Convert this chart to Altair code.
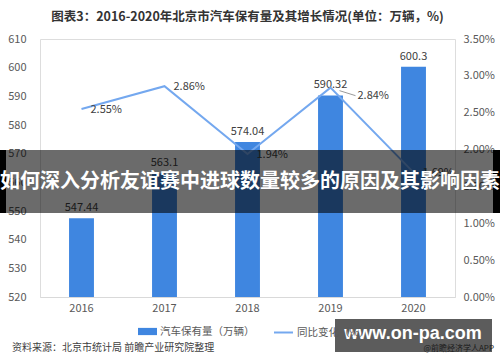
import altair as alt
import pandas as pd

years = ["2016", "2017", "2018", "2019", "2020"]
cars = [547.44, 563.1, 574.04, 590.32, 600.3]
car_labels = ["547.44", "563.1", "574.04", "590.32", "600.3"]
growth = [2.55, 2.86, 1.94, 2.84, 1.69]
growth_labels = ["2.55%", "2.86%", "1.94%", "2.84%", "1.69%"]
bar_name = "汽车保有量（万辆）"
line_name = "同比变化（%）"
title_text = "图表3：2016-2020年北京市汽车保有量及其增长情况(单位：万辆，%)"
source_text = "资料来源：北京市统计局 前瞻产业研究院整理"
banner_text = "如何深入分析友谊赛中进球数量较多的原因及其影响因素"
wm_text = "www.on-pa.com"
wm_sub = "@前瞻经济学人APP"

BAR = "#3f86e0"
LINE = "#74a8ef"
FONT = "Noto Sans CJK SC"

df = pd.DataFrame({"year": years, "cars": cars, "car_label": car_labels,
                   "growth": growth, "growth_label": growth_labels})
df["special"] = [y == "2019" for y in years]

x = alt.X("year:N", title=None,
          scale=alt.Scale(paddingInner=0.7, paddingOuter=0.35),
          axis=alt.Axis(labelAngle=0, domainColor="#d9d9d9", ticks=False,
                        labelColor="#595959", labelFontSize=11, labelPadding=5,
                        labelFont=FONT))
yl_scale = alt.Scale(domain=[520, 610], zero=False, nice=False)
yr_scale = alt.Scale(domain=[0, 3.5], nice=False)
yl_axis = alt.Axis(values=[520, 530, 540, 550, 560, 570, 580, 590, 600, 610],
                   grid=False, domain=False, ticks=False, labelColor="#595959",
                   labelFontSize=11, labelPadding=14, labelFont=FONT)
yr_axis = alt.Axis(orient="right", values=[0, 0.5, 1, 1.5, 2, 2.5, 3, 3.5],
                   labelExpr="format(datum.value, '.2f') + '%'",
                   grid=False, domain=False, ticks=False, labelColor="#595959",
                   labelFontSize=11, labelPadding=8, labelFont=FONT)

fill = alt.Fill("s:N", scale=alt.Scale(domain=[bar_name], range=[BAR]),
                legend=alt.Legend(orient="none", legendX=98, legendY=283, title=None,
                                  labelFontSize=10.5, labelColor="#595959", labelFont=FONT,
                                  symbolType="M-1,-0.38H1V0.38H-1Z", symbolSize=361,
                                  symbolStrokeWidth=0, labelOffset=3, padding=0))
stroke = alt.Stroke("s:N", scale=alt.Scale(domain=[line_name], range=[LINE]),
                    legend=alt.Legend(orient="none", legendX=233, legendY=283, title=None,
                                      labelFontSize=10.5, labelColor="#595959", labelFont=FONT,
                                      symbolType="stroke", symbolSize=361,
                                      symbolStrokeWidth=2, labelOffset=3, padding=0))

base = alt.Chart(df)

bars = base.transform_calculate(s=f"'{bar_name}'").mark_bar().encode(
    x=x,
    y=alt.Y("cars:Q", scale=yl_scale, title=None, axis=yl_axis),
    y2=alt.datum(520),
    fill=fill,
)
bar_text = base.mark_text(baseline="bottom", dy=-5, fontSize=11, color="#404040", font=FONT).encode(
    x="year:N", y=alt.Y("cars:Q", scale=yl_scale, title=None, axis=yl_axis), text="car_label:N")
left = alt.layer(bars, bar_text)

line = base.transform_calculate(s=f"'{line_name}'").mark_line(strokeWidth=2).encode(
    x="year:N",
    y=alt.Y("growth:Q", scale=yr_scale, title=None, axis=yr_axis),
    stroke=stroke,
)
gt_norm = base.transform_filter("!datum.special").mark_text(
    align="left", baseline="middle", dx=9, dy=1, fontSize=11, color="#404040", font=FONT).encode(
    x="year:N", y=alt.Y("growth:Q", scale=yr_scale, title=None, axis=yr_axis), text="growth_label:N")
gt_spec = base.transform_filter("datum.special").mark_text(
    align="left", baseline="middle", dx=27, dy=8, fontSize=11, color="#404040", font=FONT).encode(
    x="year:N", y=alt.Y("growth:Q", scale=yr_scale, title=None, axis=yr_axis), text="growth_label:N")
leader = base.transform_filter("datum.special").mark_rule(
    color="#9a9a9a", strokeWidth=1, xOffset=9, x2Offset=25, yOffset=3, y2Offset=8).encode(
    x="year:N", x2="year:N",
    y=alt.Y("growth:Q", scale=yr_scale, title=None, axis=yr_axis), y2="growth:Q")
right = alt.layer(line, leader, gt_norm, gt_spec)

one = alt.Chart(pd.DataFrame({"t": [banner_text]}))
banner = one.mark_rect(color="#000000", opacity=0.58).encode(
    x=alt.value(-40), x2=alt.value(460), y=alt.value(111), y2=alt.value(174))
edge_l = one.mark_rect(color="#000000").encode(
    x=alt.value(-40), x2=alt.value(-34), y=alt.value(111), y2=alt.value(174))
edge_r = one.mark_rect(color="#000000").encode(
    x=alt.value(453), x2=alt.value(460), y=alt.value(111), y2=alt.value(174))
banner_t = one.mark_text(color="white", fontSize=20, fontWeight="bold", font=FONT,
                         align="center", baseline="middle").encode(
    x=alt.value(210), y=alt.value(143), text="t:N")

wm = alt.Chart(pd.DataFrame({"t": [wm_text], "u": [wm_sub]}))
wm_box = wm.mark_rect(color="#333333", opacity=0.8).encode(
    x=alt.value(295), x2=alt.value(452), y=alt.value(280), y2=alt.value(313))
wm_t = wm.mark_text(color="white", fontSize=18, fontWeight="bold", font="Liberation Sans",
                    align="center", baseline="middle").encode(
    x=alt.value(373), y=alt.value(295), text="t:N")
wm_s = wm.mark_text(color="#1a1a1a", fontSize=8, font=FONT, align="right",
                    baseline="middle").encode(
    x=alt.value(454), y=alt.value(310), text="u:N")

src = alt.Chart(pd.DataFrame({"t": [source_text]})).mark_text(
    color="#404040", fontSize=10, font=FONT, align="left", baseline="middle").encode(
    x=alt.value(-28), y=alt.value(309), text="t:N")

chart = alt.layer(left, right, banner, edge_l, edge_r, banner_t, wm_box, wm_t, wm_s, src).resolve_scale(
    y="independent"
).properties(
    width=415, height=258,
    title=alt.Title(title_text, fontSize=12.5, fontWeight="bold", font=FONT, color="#333333",
                    anchor="middle", offset=10),
    autosize=alt.AutoSizeParams(type="none"),
    padding={"left": 40, "top": 39, "right": 45, "bottom": 65},
).configure_view(stroke=None).configure(background="white")

chart.save("out.html", embed_options={"renderer": "svg", "actions": False})
